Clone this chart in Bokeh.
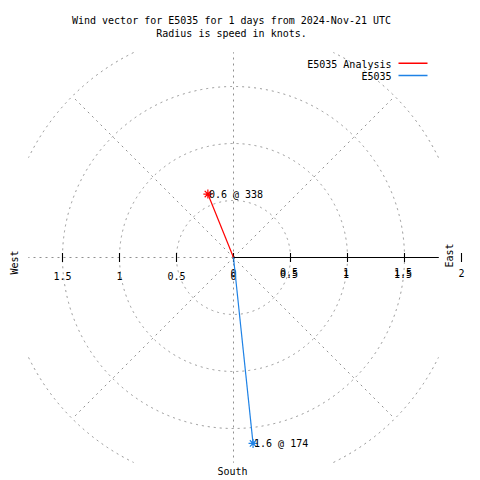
import math
import numpy as np
from bokeh.plotting import figure
from bokeh.models import Range1d, ColumnDataSource
from bokeh.core.properties import value
from bokeh.embed import file_html
from bokeh.resources import INLINE

# ---- data ----
series_names = ["E5035 Analysis", "E5035"]
series_colors = ["#ff0000", "#1e82e6"]
speeds_kt = [0.6, 1.64]          # wind speed (knots)
directions_deg = [338, 174]      # direction (degrees from north, clockwise)
ring_radii = [0.5, 1.0, 1.5, 2.0]
spoke_angles_deg = [0, 45, 90, 135, 180, 225, 270, 315]
left_ticks = [-1.5, -1.0, -0.5, 0.0]
left_tick_labels = ["1.5", "1", "0.5", "0"]
right_ticks = [0.5, 1.0, 1.5]
right_tick_labels = ["0.5", "1", "1.5"]
outer_tick = [2.0]
outer_tick_label = ["2"]
title_lines = ["Wind vector for E5035 for 1 days from 2024-Nov-21 UTC",
               "Radius is speed in knots."]

FONT = "DejaVu Sans Mono"
FS = "10px"
GRID = "#909090"
PX = 114.0   # pixels per knot (layout)
CX, CY = 233.0, 257.0   # centre of the polar plot in pixels
BOX = 1.8    # half size of the polar plotting box, knots
W = H = 480

def dx(px):
    return (px - CX) / PX

def dy(py):
    return (CY - py) / PX

p = figure(width=W, height=H, output_backend="svg", toolbar_location=None,
           x_range=Range1d(dx(0), dx(W)), y_range=Range1d(dy(H), dy(0)),
           x_axis_location=None, y_axis_location=None, min_border=0)
p.grid.visible = False
p.outline_line_color = None
p.background_fill_color = "white"
p.border_fill_color = "white"

# rings, clipped to the plotting box
th = np.linspace(0, 2*np.pi, 1441)
for r in ring_radii:
    xs = r*np.cos(th)
    ys = r*np.sin(th)
    m = (np.abs(xs) > BOX) | (np.abs(ys) > BOX)
    xs = np.where(m, np.nan, xs)
    ys = np.where(m, np.nan, ys)
    p.line(xs, ys, line_color=GRID, line_width=1, line_dash="2 4")

# spokes, clipped to the plotting box
rmax = max(ring_radii)
sx, sy = [], []
for a in spoke_angles_deg:
    c, s = math.cos(math.radians(a)), math.sin(math.radians(a))
    t = rmax
    if abs(c) > 1e-9:
        t = min(t, BOX/abs(c))
    if abs(s) > 1e-9:
        t = min(t, BOX/abs(s))
    sx.append(t*c)
    sy.append(t*s)
p.segment(x0=[0]*len(sx), y0=[0]*len(sx), x1=sx, y1=sy,
          line_color=GRID, line_width=1, line_dash="2 4")

# positive x axis line and ticks
p.segment(x0=[0], y0=[0], x1=[BOX], y1=[0], line_color="black", line_width=1.2)
all_ticks = left_ticks + right_ticks + outer_tick
tk = 4.5/PX
p.segment(x0=all_ticks, y0=[-tk]*len(all_ticks), x1=all_ticks, y1=[tk]*len(all_ticks),
          line_color="black", line_width=1.1)

# tick labels
def txt(x, y, t, align="center", angle=0.0, x_offset=0, source=None):
    kw = dict(text_font=value(FONT), text_font_size=FS, text_color="black",
              text_align=align, text_baseline="middle", angle=angle, x_offset=x_offset)
    if source is not None:
        return p.text(x=x, y=y, text=t, source=source, **kw)
    return p.text(x=x, y=y, text=t, **kw)

txt(left_ticks, [dy(275.5)]*len(left_ticks), left_tick_labels)
txt([0.0], [dy(272.5)], ["0"])
for yy in (271.5, 273.5):
    txt(right_ticks, [dy(yy)]*len(right_ticks), right_tick_labels, x_offset=-1.5)
txt(outer_tick, [dy(272)], outer_tick_label)

# wind vectors
ex = [s*math.sin(math.radians(d)) for s, d in zip(speeds_kt, directions_deg)]
ey = [s*math.cos(math.radians(d)) for s, d in zip(speeds_kt, directions_deg)]
labels = [f"{s:.1f} @ {d}" for s, d in zip(speeds_kt, directions_deg)]
src = ColumnDataSource(dict(x0=[0]*len(ex), y0=[0]*len(ex), x=ex, y=ey,
                            c=series_colors, t=labels))
p.segment(x0="x0", y0="y0", x1="x", y1="y", line_color="c", line_width=1.2, source=src)
p.scatter(x="x", y="y", marker="asterisk", size=9, line_color="c", line_width=1.2, source=src)
txt("x", "y", "t", align="left", x_offset=1, source=src)

# legend: text right-aligned, line on the right
txt([dx(391)]*2, [dy(63.5), dy(76)], series_names, align="right")
p.segment(x0=[dx(398)]*2, y0=[dy(62.7), dy(75)], x1=[dx(427)]*2, y1=[dy(62.7), dy(75)],
          line_color=series_colors, line_width=1.5)

# title
txt([dx(231)]*2, [dy(19.5), dy(33)], title_lines)

# compass labels
txt([dx(14)], [dy(262)], ["West"], angle=math.pi/2)
txt([dx(449)], [dy(255)], ["East"], angle=math.pi/2)
txt([dx(232)], [dy(471)], ["South"])

open("out.html", "w").write(file_html(p, INLINE))
